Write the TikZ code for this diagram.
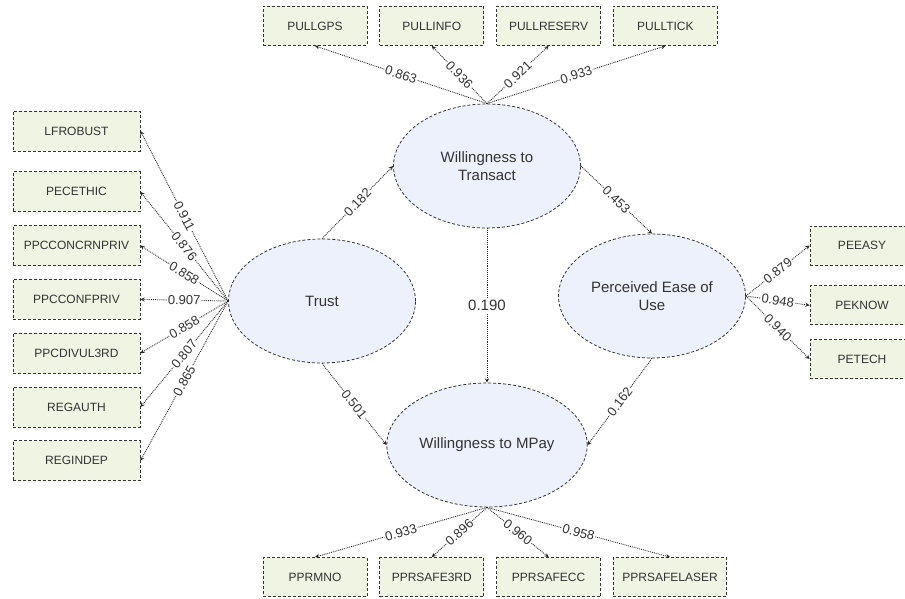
\documentclass[tikz,border=0pt]{standalone}
\usepackage{fontspec}
\setmainfont{Liberation Sans}
\usetikzlibrary{arrows,positioning,shapes.geometric}
\definecolor{itemfill}{HTML}{EFF4E3}
\definecolor{latentfill}{HTML}{EDF1FC}
\definecolor{inkgray}{HTML}{333333}
\begin{document}
\begin{tikzpicture}
[x=1pt,y=-1pt,
latent/.style={ellipse,draw=inkgray,fill=latentfill,densely dashed,line width=0.8pt,minimum width=187pt,minimum height=124pt,align=center,text=inkgray,font=\fontsize{15}{18}\selectfont},
item/.style={rectangle,draw=inkgray,fill=itemfill,densely dashed,line width=0.8pt,minimum width=104pt,minimum height=39pt,inner xsep=9pt,text=inkgray,font=\fontsize{12}{14}\selectfont},
wideitem/.style={item,minimum width=127pt,minimum height=40pt},
load/.style={->,>=stealth,densely dotted,draw=black!85,line width=0.9pt},
weight/.style={midway,sloped,fill=white,inner sep=1pt,text=inkgray,font=\fontsize{13}{15}\selectfont},
bigweight/.style={midway,fill=white,inner sep=2pt,text=inkgray,font=\fontsize{15}{18}\selectfont}]
\useasboundingbox (0,0) rectangle (905,599);
\clip (0,0) rectangle (905,599);
\node[latent] (transact) at (487,166) {Willingness to\\Transact};
\node[latent] (trust) at (322,301) {Trust};
\node[latent] (ease) at (652,296) {Perceived Ease of\\Use};
\node[latent] (mpay) at (487,445) {Willingness to MPay};
\node[item] (pullgps) at (315,26) {PULLGPS};
\node[item] (pullinfo) [right=12pt of pullgps] {PULLINFO};
\node[item] (pullreserv) [right=12pt of pullinfo] {PULLRESERV};
\node[item] (pulltick) [right=12pt of pullreserv] {PULLTICK};
\node[wideitem] (lfrobust) at (76.5,131) {LFROBUST};
\node[wideitem] (pecethic) [below=20pt of lfrobust] {PECETHIC};
\node[wideitem] (ppcconcrnpriv) [below=13pt of pecethic] {PPCCONCRNPRIV};
\node[wideitem] (ppcconfpriv) [below=13pt of ppcconcrnpriv] {PPCCONFPRIV};
\node[wideitem] (ppcdivul) [below=13pt of ppcconfpriv] {PPCDIVUL3RD};
\node[wideitem] (regauth) [below=13pt of ppcdivul] {REGAUTH};
\node[wideitem] (regindep) [below=13pt of regauth] {REGINDEP};
\node[item] (peeasy) at (862,245.5) {PEEASY};
\node[item] (peknow) [below=20pt of peeasy] {PEKNOW};
\node[item] (petech) [below=14pt of peknow] {PETECH};
\node[item] (pprmno) at (315,577) {PPRMNO};
\node[item] (pprsafe3rd) [right=12pt of pprmno] {PPRSAFE3RD};
\node[item] (pprsafecc) [right=12pt of pprsafe3rd] {PPRSAFECC};
\node[item] (pprsafelaser) [right=12pt of pprsafecc] {PPRSAFELASER};
\draw[load] (transact.north) -- node[weight] {0.863} (pullgps.south);
\draw[load] (transact.north) -- node[weight] {0.936} (pullinfo.south);
\draw[load] (transact.north) -- node[weight] {0.921} (pullreserv.south);
\draw[load] (transact.north) -- node[weight] {0.933} (pulltick.south);
\draw[load] (trust.west) -- node[weight] {0.911} (lfrobust.east);
\draw[load] (trust.west) -- node[weight] {0.876} (pecethic.east);
\draw[load] (trust.west) -- node[weight] {0.858} (ppcconcrnpriv.east);
\draw[load] (trust.west) -- node[weight] {0.907} (ppcconfpriv.east);
\draw[load] (trust.west) -- node[weight] {0.858} (ppcdivul.east);
\draw[load] (trust.west) -- node[weight] {0.807} (regauth.east);
\draw[load] (trust.west) -- node[weight] {0.865} (regindep.east);
\draw[load] (ease.east) -- node[weight] {0.879} (peeasy.west);
\draw[load] (ease.east) -- node[weight] {0.948} (peknow.west);
\draw[load] (ease.east) -- node[weight] {0.940} (petech.west);
\draw[load] (mpay.south) -- node[weight] {0.933} (pprmno.north);
\draw[load] (mpay.south) -- node[weight] {0.896} (pprsafe3rd.north);
\draw[load] (mpay.south) -- node[weight] {0.960} (pprsafecc.north);
\draw[load] (mpay.south) -- node[weight] {0.958} (pprsafelaser.north);
\draw[load] (trust.north) -- node[weight] {0.182} (transact.west);
\draw[load] (transact.east) -- node[weight] {0.453} (ease.north);
\draw[load] (transact.south) -- node[bigweight] {0.190} (mpay.north);
\draw[load] (trust.south) -- node[weight] {0.501} (mpay.west);
\draw[load] (ease.south) -- node[weight] {0.162} (mpay.east);
\end{tikzpicture}
\end{document}
